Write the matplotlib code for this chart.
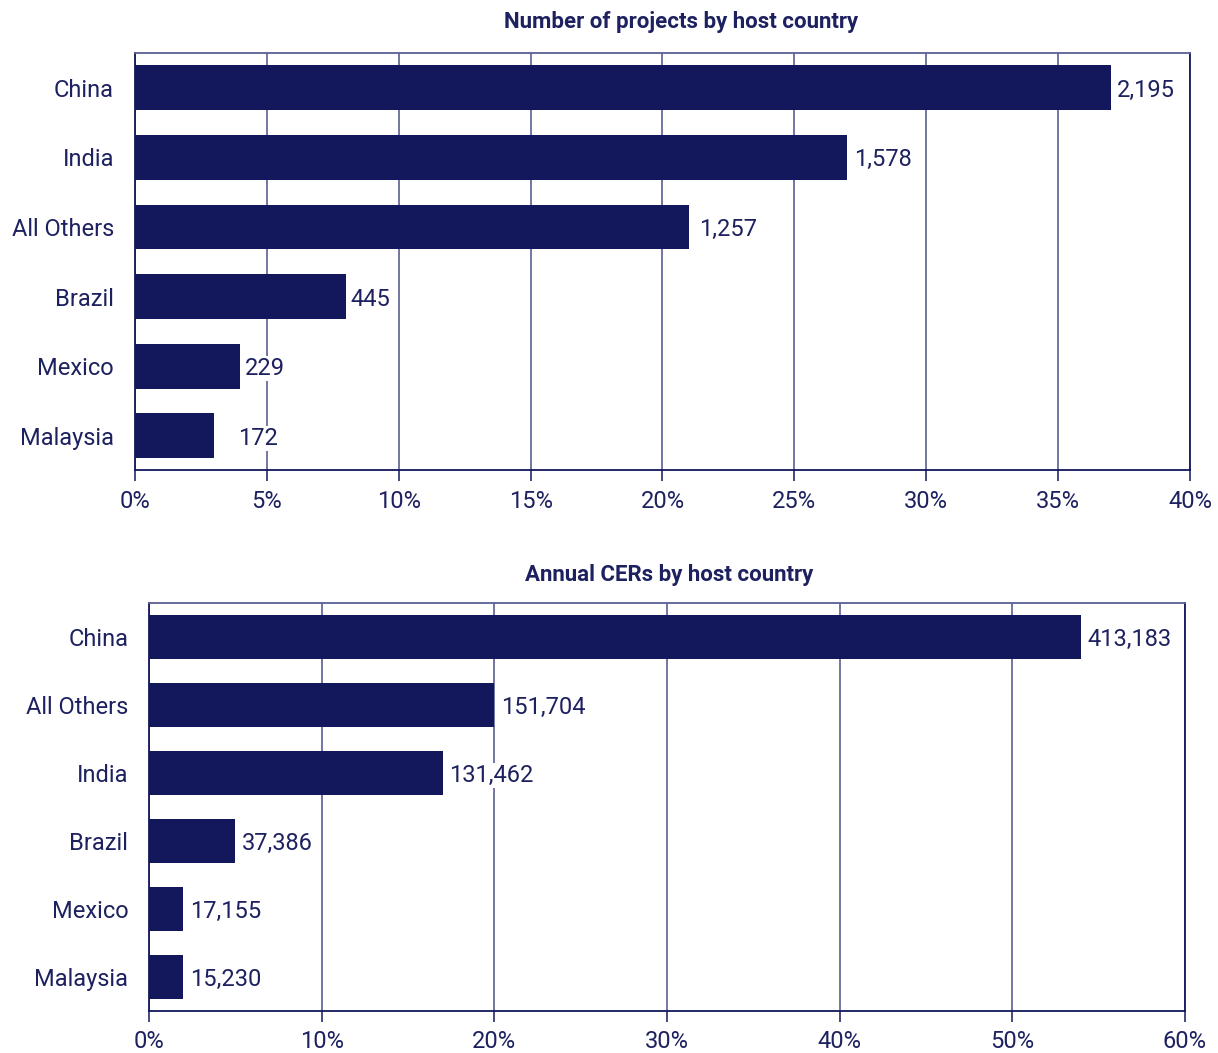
import matplotlib.pyplot as plt
import numpy as np

# Project counts and annual CERs by host country
proj_countries = ["China", "India", "All Others", "Brazil", "Mexico", "Malaysia"]
proj_counts = [2195, 1578, 1257, 445, 229, 172]

cer_countries = ["China", "All Others", "India", "Brazil", "Mexico", "Malaysia"]
cer_values = [413183, 151704, 131462, 37386, 17155, 15230]

proj_ticks = [0, 5, 10, 15, 20, 25, 30, 35, 40]
cer_ticks = [0, 10, 20, 30, 40, 50, 60]

NAVY = "#12185b"
TEXT = "#1d215f"
GRID = "#4c5189"
FONT = ["Roboto", "DejaVu Sans"]
FS = 17


def share(values):
    # rounded percentage of the total
    v = np.array(values, dtype=float)
    return np.round(v / v.sum() * 100)


def draw(ax, names, values, ticks, bar_h, label_gap):
    pct = share(values)
    y = np.arange(len(names))
    ax.barh(y, pct, height=bar_h, color=NAVY, zorder=3)
    ax.set_xlim(ticks[0], ticks[-1])
    ax.set_ylim(len(names) - 0.5, -0.5)
    ax.set_xticks(ticks)
    ax.set_xticklabels([f"{t}%" for t in ticks], fontsize=FS, color=TEXT, family=FONT)
    ax.set_yticks(y)
    ax.set_yticklabels(names, fontsize=FS, color=TEXT, family=FONT)
    ax.tick_params(axis="y", length=0, pad=15)
    ax.tick_params(axis="x", length=8, width=1.1, color=NAVY, pad=6)
    ax.grid(axis="x", color=GRID, lw=1.1, zorder=1)
    for s in ["left", "right", "bottom"]:
        ax.spines[s].set_color(NAVY)
        ax.spines[s].set_linewidth(1.3)
    ax.spines["top"].set_color("#5b5f92")
    ax.spines["top"].set_linewidth(1.3)
    for yi, p, v, g in zip(y, pct, values, label_gap):
        ax.annotate(f"{v:,}", (p, yi), xytext=(g, 0), textcoords="offset points",
                    va="center_baseline", ha="left", fontsize=FS, color=TEXT,
                    family=FONT,
                    bbox=dict(boxstyle="square,pad=0.05", fc="white", ec="none"),
                    zorder=4)


fig = plt.figure(figsize=(12.18, 10.53), dpi=100)

ax1 = fig.add_axes([0.1108, 0.5532, 0.8662, 0.3965])
draw(ax1, proj_countries, proj_counts, proj_ticks, 0.644, [4.5, 5, 7, 3, 3, 17])
fig.text(0.559, 0.979, "Number of projects by host country", ha="center", va="center",
         fontsize=16, fontweight="bold", color=TEXT, family=FONT)

ax2 = fig.add_axes([0.1223, 0.0402, 0.8506, 0.3872])
draw(ax2, cer_countries, cer_values, cer_ticks, 0.648, [4, 5, 4.5, 4.5, 5, 5])
fig.text(0.549, 0.454, "Annual CERs by host country", ha="center", va="center",
         fontsize=16, fontweight="bold", color=TEXT, family=FONT)

fig.savefig("out.png", dpi=100)
